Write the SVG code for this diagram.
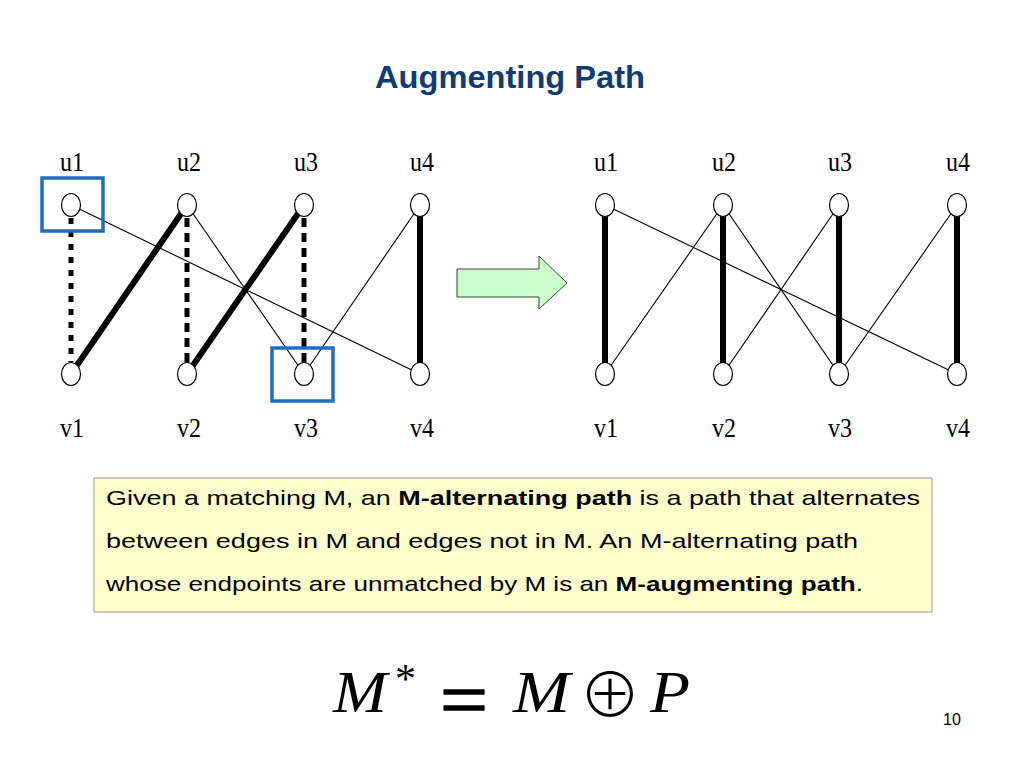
<svg xmlns="http://www.w3.org/2000/svg" width="1024" height="768" viewBox="0 0 1024 768">
<style>
.lbl{font-family:"Liberation Serif","Times New Roman",serif;font-size:27px;fill:#000;text-anchor:middle}
.nd{fill:#fff;stroke:#000;stroke-width:1.2}
.thin{stroke:#000;stroke-width:1.1;fill:none}
.thick{stroke:#000;stroke-width:6;fill:none}
.dot1{stroke:#000;stroke-width:5;stroke-dasharray:6 7;fill:none}
.dot2{stroke:#000;stroke-width:5;stroke-dasharray:9 6;fill:none}
.sel{fill:none;stroke:#1f6dc2;stroke-width:3.5}
.body{font-family:"Liberation Sans",Arial,sans-serif;font-size:21px;fill:#000}
.math{font-family:"Liberation Serif","Times New Roman",serif;font-style:italic;font-size:60px;fill:#000}
</style>
<rect width="1024" height="768" fill="#fff"/>
<text id="title" x="375" y="88" textLength="270" lengthAdjust="spacingAndGlyphs" style="font-family:'Liberation Sans',Arial,sans-serif;font-weight:bold;font-size:32px;fill:#123b70">Augmenting Path</text>

<g id="connectors">
  <line class="dot1" x1="71" y1="218" x2="71" y2="362"/>
  <line class="thick" x1="187" y1="205" x2="71" y2="374"/>
  <line class="dot2" x1="187" y1="218" x2="187" y2="362"/>
  <line class="thick" x1="304" y1="205" x2="187" y2="374"/>
  <line class="dot2" x1="304" y1="218" x2="304" y2="362"/>
  <line class="thick" x1="420" y1="205" x2="420" y2="374"/>
  <line class="thin" x1="71" y1="205" x2="420" y2="374"/>
  <line class="thin" x1="187" y1="205" x2="304" y2="374"/>
  <line class="thin" x1="420" y1="205" x2="304" y2="374"/>
  <line class="thick" x1="605" y1="205" x2="605" y2="374"/>
  <line class="thick" x1="723" y1="205" x2="723" y2="374"/>
  <line class="thick" x1="839" y1="205" x2="839" y2="374"/>
  <line class="thick" x1="957" y1="205" x2="957" y2="374"/>
  <line class="thin" x1="605" y1="205" x2="957" y2="374"/>
  <line class="thin" x1="723" y1="205" x2="605" y2="374"/>
  <line class="thin" x1="723" y1="205" x2="839" y2="374"/>
  <line class="thin" x1="839" y1="205" x2="723" y2="374"/>
  <line class="thin" x1="957" y1="205" x2="839" y2="374"/>
</g>

<g id="L-u1"><text class="lbl" x="72" y="171" textLength="24" lengthAdjust="spacingAndGlyphs">u1</text><ellipse class="nd" cx="71" cy="205" rx="9.5" ry="11.5"/><rect class="sel" x="42" y="178" width="61" height="53"/></g>
<g id="L-u2"><text class="lbl" x="189" y="171" textLength="24" lengthAdjust="spacingAndGlyphs">u2</text><ellipse class="nd" cx="187" cy="205" rx="9.5" ry="11.5"/></g>
<g id="L-u3"><text class="lbl" x="306" y="171" textLength="24" lengthAdjust="spacingAndGlyphs">u3</text><ellipse class="nd" cx="304" cy="205" rx="9.5" ry="11.5"/></g>
<g id="L-u4"><text class="lbl" x="422" y="171" textLength="24" lengthAdjust="spacingAndGlyphs">u4</text><ellipse class="nd" cx="420" cy="205" rx="9.5" ry="11.5"/></g>
<g id="L-v1"><text class="lbl" x="72" y="437" textLength="24" lengthAdjust="spacingAndGlyphs">v1</text><ellipse class="nd" cx="71" cy="374" rx="9.5" ry="11.5"/></g>
<g id="L-v2"><text class="lbl" x="189" y="437" textLength="24" lengthAdjust="spacingAndGlyphs">v2</text><ellipse class="nd" cx="187" cy="374" rx="9.5" ry="11.5"/></g>
<g id="L-v3"><text class="lbl" x="306" y="437" textLength="24" lengthAdjust="spacingAndGlyphs">v3</text><ellipse class="nd" cx="304" cy="374" rx="9.5" ry="11.5"/><rect class="sel" x="272" y="348" width="61" height="53"/></g>
<g id="L-v4"><text class="lbl" x="422" y="437" textLength="24" lengthAdjust="spacingAndGlyphs">v4</text><ellipse class="nd" cx="420" cy="374" rx="9.5" ry="11.5"/></g>

<g id="R-u1"><text class="lbl" x="606" y="171" textLength="24" lengthAdjust="spacingAndGlyphs">u1</text><ellipse class="nd" cx="605" cy="205" rx="9.5" ry="11.5"/></g>
<g id="R-u2"><text class="lbl" x="724" y="171" textLength="24" lengthAdjust="spacingAndGlyphs">u2</text><ellipse class="nd" cx="723" cy="205" rx="9.5" ry="11.5"/></g>
<g id="R-u3"><text class="lbl" x="840" y="171" textLength="24" lengthAdjust="spacingAndGlyphs">u3</text><ellipse class="nd" cx="839" cy="205" rx="9.5" ry="11.5"/></g>
<g id="R-u4"><text class="lbl" x="958" y="171" textLength="24" lengthAdjust="spacingAndGlyphs">u4</text><ellipse class="nd" cx="957" cy="205" rx="9.5" ry="11.5"/></g>
<g id="R-v1"><text class="lbl" x="606" y="437" textLength="24" lengthAdjust="spacingAndGlyphs">v1</text><ellipse class="nd" cx="605" cy="374" rx="9.5" ry="11.5"/></g>
<g id="R-v2"><text class="lbl" x="724" y="437" textLength="24" lengthAdjust="spacingAndGlyphs">v2</text><ellipse class="nd" cx="723" cy="374" rx="9.5" ry="11.5"/></g>
<g id="R-v3"><text class="lbl" x="840" y="437" textLength="24" lengthAdjust="spacingAndGlyphs">v3</text><ellipse class="nd" cx="839" cy="374" rx="9.5" ry="11.5"/></g>
<g id="R-v4"><text class="lbl" x="958" y="437" textLength="24" lengthAdjust="spacingAndGlyphs">v4</text><ellipse class="nd" cx="957" cy="374" rx="9.5" ry="11.5"/></g>

<g id="arrow"><polygon points="457,269 539,269 539,256 567,283 539,309 539,297 457,297" fill="#ccffcc" stroke="#2f4f2f" stroke-width="1"/></g>

<g id="definition">
  <rect x="94" y="478" width="838" height="134" fill="#ffffcc" stroke="#999999" stroke-width="1"/>
  <text class="body" x="106" y="505" textLength="814" lengthAdjust="spacingAndGlyphs">Given a matching M, an <tspan font-weight="bold">M-alternating path</tspan> is a path that alternates</text>
  <text class="body" x="106" y="548" textLength="752" lengthAdjust="spacingAndGlyphs">between edges in M and edges not in M.  An M-alternating path</text>
  <text class="body" x="106" y="591" textLength="757" lengthAdjust="spacingAndGlyphs">whose endpoints are unmatched by M is an <tspan font-weight="bold">M-augmenting path</tspan>.</text>
</g>

<g id="formula">
  <text class="math" x="333" y="712" textLength="54" lengthAdjust="spacingAndGlyphs">M</text>
  <text x="395" y="693" style="font-family:'Liberation Serif',serif;font-size:42px">*</text>
  <text x="440" y="727" textLength="48" lengthAdjust="spacingAndGlyphs" style="font-family:'Liberation Serif',serif;font-size:80px;stroke:#000;stroke-width:1.5">=</text>
  <text class="math" x="513" y="712" textLength="57" lengthAdjust="spacingAndGlyphs">M</text>
  <text x="610" y="718" text-anchor="middle" style="font-family:'Noto Sans CJK JP','DejaVu Sans',sans-serif;font-weight:300;font-size:62px">⊕</text>
  <text class="math" x="650" y="712" textLength="40" lengthAdjust="spacingAndGlyphs">P</text>
</g>

<text id="page" x="952" y="725" text-anchor="middle" style="font-family:'Liberation Sans',Arial,sans-serif;font-size:16px">10</text>
</svg>
